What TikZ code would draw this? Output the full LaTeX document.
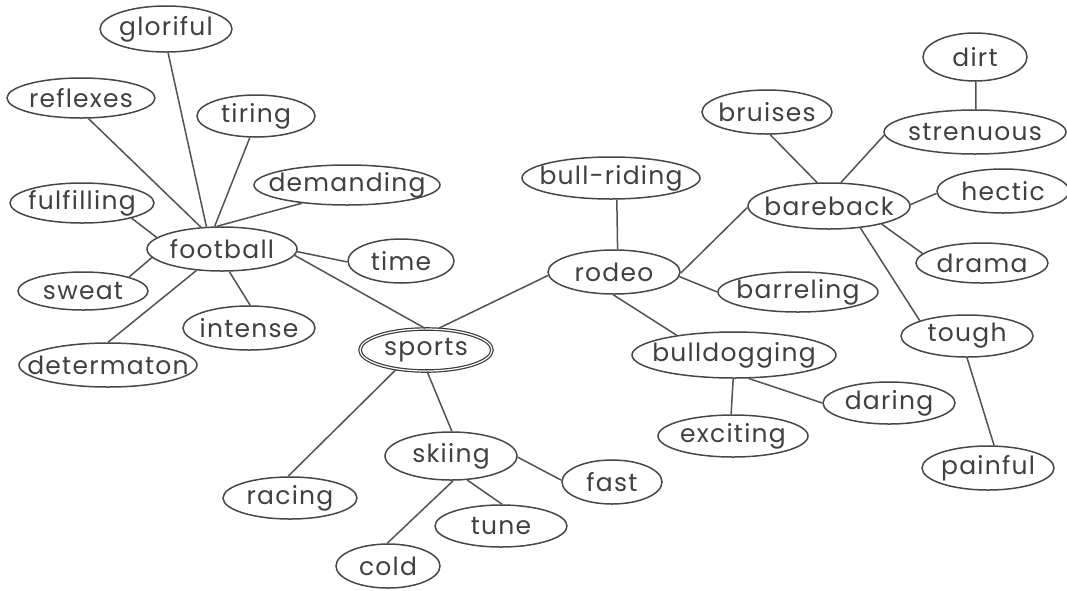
\documentclass[tikz,border=0pt]{standalone}
\usepackage{fontspec}
\setmainfont{Poppins}[LetterSpace=5]
\usetikzlibrary{shapes.geometric}
\tikzset{
  bub/.style={ellipse, draw=black!72, line width=1.5pt, inner sep=0pt},
  bubmain/.style={ellipse, draw=black!78, line width=1.2pt, double, double distance=1.2pt, inner sep=0pt},
  txt/.style={inner sep=0pt, font=\fontsize{25}{28}\selectfont, text=black!75},
  link/.style={draw=black!68, line width=1.5pt},
}
\newcommand\bubble[7][bub]{%
  \node[#1, minimum width=#5pt, minimum height=#6pt] (#2) at (#3,#4) {};
  \node[txt] (#2-t) at (#2.center) {#7};}
\begin{document}
\begin{tikzpicture}[x=1pt, y=-1pt]
\useasboundingbox (0,0) rectangle (1067,590);
\bubble{glor}{166}{29}{132}{46}{gloriful}
\bubble{refl}{81}{98}{148}{40}{reflexes}
\bubble{tir}{256}{116}{118}{42}{tiring}
\bubble{dem}{347}{185}{186}{40}{demanding}
\bubble{fulf}{82}{203}{144}{40}{fulfilling}
\bubble{foot}{222}{249}{150}{44}{football}
\bubble{time}{401}{261}{106}{44}{time}
\bubble{sweat}{83}{291}{130}{38}{sweat}
\bubble{int}{249}{328}{132}{44}{intense}
\bubble{det}{108}{365}{178}{44}{determaton}
\bubble[bubmain]{sports}{426}{350}{132}{42}{sports}
\bubble{ski}{451}{456}{132}{48}{skiing}
\bubble{rac}{290}{498}{134}{42}{racing}
\bubble{fast}{612}{482}{100}{44}{fast}
\bubble{tune}{501}{526}{132}{42}{tune}
\bubble{cold}{388}{566}{104}{44}{cold}
\bubble{bullr}{611}{178}{178}{42}{bull-riding}
\bubble{rodeo}{614}{272}{132}{44}{rodeo}
\bubble{barr}{798}{292}{160}{40}{barreling}
\bubble{bulld}{734}{355}{204}{46}{bulldogging}
\bubble{exc}{733}{436}{150}{42}{exciting}
\bubble{dar}{889}{403}{132}{42}{daring}
\bubble{brui}{767}{112}{130}{44}{bruises}
\bubble{bare}{829}{206}{162}{46}{bareback}
\bubble{dirt}{975}{57}{104}{48}{dirt}
\bubble{stren}{975}{132}{182}{44}{strenuous}
\bubble{hect}{1003}{191}{132}{44}{hectic}
\bubble{drama}{982}{263}{132}{40}{drama}
\bubble{tough}{967}{336}{132}{42}{tough}
\bubble{pain}{988}{468}{132}{44}{painful}
% football cluster
\draw[link] (foot.125) -- (glor.-85);
\draw[link] (foot.134) -- (refl.-70);
\draw[link] (foot.108) -- (tir.-106);
\draw[link] (foot.103) -- (dem.202);
\draw[link] (foot.170) -- (fulf.-17);
\draw[link] (foot.187) -- (sweat.17);
\draw[link] (foot.220) -- (det.90);
\draw[link] (foot.-72) -- (int.87);
\draw[link] (foot.-2) -- (time.181);
\draw[link] (foot.-5) -- (sports.92);
% sports
\draw[link] (rodeo.183) -- (sports.61);
\draw[link] (sports.213) -- (rac.95);
\draw[link] (sports.-87) -- (ski.88);
\draw[link] (ski.-1) -- (fast.178);
\draw[link] (ski.-56) -- (tune.87);
\draw[link] (ski.-85) -- (cold.92);
% rodeo
\draw[link] (rodeo.81) -- (bullr.-75);
\draw[link] (rodeo.-1) -- (bare.181);
\draw[link] (rodeo.-4) -- (barr.180);
\draw[link] (rodeo.-92) -- (bulld.161);
\draw[link] (bulld.-92) -- (exc.95);
\draw[link] (bulld.-58) -- (dar.180);
% bareback
\draw[link] (bare.117) -- (brui.-82);
\draw[link] (bare.63) -- (stren.182);
\draw[link] (bare.1) -- (hect.182);
\draw[link] (bare.-19) -- (drama.171);
\draw[link] (bare.-35) -- (tough.162);
\draw[link] (dirt.-88) -- (stren.88);
\draw[link] (tough.-90) -- (pain.75);
\end{tikzpicture}
\end{document}
